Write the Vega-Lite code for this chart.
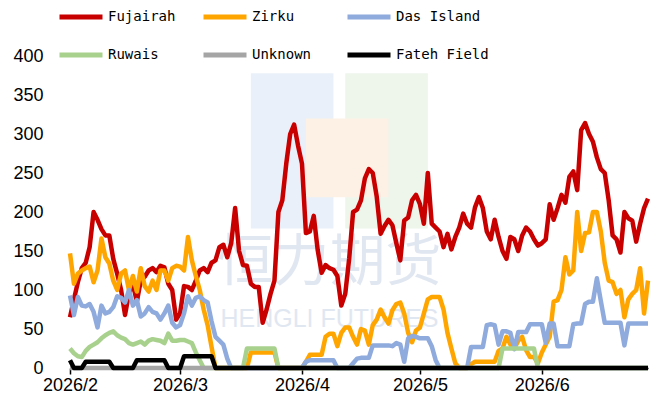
{
"$schema": "https://vega.github.io/schema/vega-lite/v6.json",
"width": 578, "height": 312,
"autosize": {"type": "none"},
"padding": {"left": 70, "top": 56, "right": 8, "bottom": 33},
"background": "white",
"config": {"view": {"stroke": null}, "font": "Liberation Sans",
  "axisX": {"labelOverlap": false, "grid": false, "domainColor": "black", "domainWidth": 1.5, "tickColor": "black", "tickSize": 6, "tickWidth": 1.5, "labelFont": "Liberation Sans", "labelFontSize": 18, "labelColor": "black", "labelPadding": 2, "labelFlush": false, "title": null},
  "axisY": {"labelOverlap": false, "grid": false, "domain": false, "ticks": false, "labelFont": "Liberation Sans", "labelFontSize": 18, "labelColor": "black", "labelPadding": 27, "title": null}},
"layer": [
{"data": {"values": [{"a": "2026-03-19", "b": "2026-04-09", "lo": 179, "hi": 378, "k": "blue"},
                     {"a": "2026-04-12", "b": "2026-05-03", "lo": 179, "hi": 378, "k": "green"},
                     {"a": "2026-04-02", "b": "2026-04-23", "lo": 219, "hi": 320, "k": "orange"}]},
 "mark": {"type": "rect"},
 "encoding": {"x": {"field": "a", "type": "temporal",
        "scale": {"type": "utc", "domain": [{"year": 2026, "month": 2, "date": 1, "utc": true}, {"year": 2026, "month": 6, "date": 28, "utc": true}]},
        "axis": {"values": [{"year": 2026, "month": 2, "date": 1, "utc": true}, {"year": 2026, "month": 3, "date": 1, "utc": true}, {"year": 2026, "month": 4, "date": 1, "utc": true}, {"year": 2026, "month": 5, "date": 1, "utc": true}, {"year": 2026, "month": 6, "date": 1, "utc": true}], "format": "%Y/%-m", "labelOverlap": false, "title": null}},
              "x2": {"field": "b"},
              "y": {"field": "lo", "type": "quantitative",
        "scale": {"domain": [0, 400], "nice": false},
        "axis": {"values": [0, 50, 100, 150, 200, 250, 300, 350, 400], "labelOverlap": false, "title": null}},
              "y2": {"field": "hi"},
              "fill": {"field": "k", "type": "nominal", "scale": {"domain": ["blue", "green", "orange"], "range": ["#e9f0f9", "#eef6ec", "#fdf1e5"]}, "legend": null}}},
{"data": {"values": [{"t": "恒力期货"}]},
 "mark": {"type": "text", "font": "Noto Sans CJK SC", "fontSize": 56, "color": "#e1e7f1", "align": "center", "baseline": "middle"},
 "encoding": {"text": {"field": "t"},
   "x": {"datum": {"year": 2026, "month": 4, "date": 8, "utc": true}, "type": "temporal", "axis": {"values": [{"year": 2026, "month": 2, "date": 1, "utc": true}, {"year": 2026, "month": 3, "date": 1, "utc": true}, {"year": 2026, "month": 4, "date": 1, "utc": true}, {"year": 2026, "month": 5, "date": 1, "utc": true}, {"year": 2026, "month": 6, "date": 1, "utc": true}], "format": "%Y/%-m", "labelOverlap": false, "title": null}},
   "y": {"datum": 135, "type": "quantitative", "axis": {"values": [0, 50, 100, 150, 200, 250, 300, 350, 400], "labelOverlap": false, "title": null}}}},
{"data": {"values": [{"t": "HENGLI FUTURES"}]},
 "mark": {"type": "text", "font": "Liberation Sans", "fontSize": 25, "color": "#e1e7f1", "align": "center", "baseline": "middle"},
 "encoding": {"text": {"field": "t"},
   "x": {"datum": {"year": 2026, "month": 4, "date": 8, "utc": true}, "type": "temporal", "axis": {"values": [{"year": 2026, "month": 2, "date": 1, "utc": true}, {"year": 2026, "month": 3, "date": 1, "utc": true}, {"year": 2026, "month": 4, "date": 1, "utc": true}, {"year": 2026, "month": 5, "date": 1, "utc": true}, {"year": 2026, "month": 6, "date": 1, "utc": true}], "format": "%Y/%-m", "labelOverlap": false, "title": null}},
   "y": {"datum": 63, "type": "quantitative", "axis": {"values": [0, 50, 100, 150, 200, 250, 300, 350, 400], "labelOverlap": false, "title": null}}}},
{"data": {"values": [
{"d":"2026-02-01","Fujairah":65,"Zirku":147,"Das Island":93,"Ruwais":25,"Unknown":0,"Fateh Field":10},
{"d":"2026-02-02","Fujairah":88,"Zirku":108,"Das Island":68,"Ruwais":19,"Unknown":0,"Fateh Field":0},
{"d":"2026-02-03","Fujairah":110,"Zirku":121,"Das Island":91,"Ruwais":15,"Unknown":0,"Fateh Field":0},
{"d":"2026-02-04","Fujairah":128,"Zirku":125,"Das Island":80,"Ruwais":14,"Unknown":0,"Fateh Field":0},
{"d":"2026-02-05","Fujairah":135,"Zirku":128,"Das Island":79,"Ruwais":22,"Unknown":0,"Fateh Field":8},
{"d":"2026-02-06","Fujairah":155,"Zirku":130,"Das Island":82,"Ruwais":27,"Unknown":0,"Fateh Field":8},
{"d":"2026-02-07","Fujairah":200,"Zirku":110,"Das Island":72,"Ruwais":30,"Unknown":0,"Fateh Field":8},
{"d":"2026-02-08","Fujairah":190,"Zirku":125,"Das Island":52,"Ruwais":33,"Unknown":0,"Fateh Field":8},
{"d":"2026-02-09","Fujairah":178,"Zirku":166,"Das Island":80,"Ruwais":38,"Unknown":0,"Fateh Field":8},
{"d":"2026-02-10","Fujairah":170,"Zirku":142,"Das Island":70,"Ruwais":42,"Unknown":0,"Fateh Field":8},
{"d":"2026-02-11","Fujairah":170,"Zirku":134,"Das Island":72,"Ruwais":45,"Unknown":0,"Fateh Field":8},
{"d":"2026-02-12","Fujairah":140,"Zirku":112,"Das Island":78,"Ruwais":47,"Unknown":0,"Fateh Field":0},
{"d":"2026-02-13","Fujairah":121,"Zirku":100,"Das Island":92,"Ruwais":42,"Unknown":0,"Fateh Field":0},
{"d":"2026-02-14","Fujairah":100,"Zirku":121,"Das Island":90,"Ruwais":39,"Unknown":0,"Fateh Field":0},
{"d":"2026-02-15","Fujairah":68,"Zirku":125,"Das Island":84,"Ruwais":37,"Unknown":0,"Fateh Field":0},
{"d":"2026-02-16","Fujairah":96,"Zirku":100,"Das Island":100,"Ruwais":32,"Unknown":0,"Fateh Field":0},
{"d":"2026-02-17","Fujairah":108,"Zirku":118,"Das Island":80,"Ruwais":30,"Unknown":0,"Fateh Field":0},
{"d":"2026-02-18","Fujairah":85,"Zirku":98,"Das Island":87,"Ruwais":32,"Unknown":0,"Fateh Field":10},
{"d":"2026-02-19","Fujairah":112,"Zirku":128,"Das Island":66,"Ruwais":34,"Unknown":0,"Fateh Field":10},
{"d":"2026-02-20","Fujairah":117,"Zirku":105,"Das Island":70,"Ruwais":30,"Unknown":0,"Fateh Field":10},
{"d":"2026-02-21","Fujairah":125,"Zirku":98,"Das Island":78,"Ruwais":35,"Unknown":0,"Fateh Field":10},
{"d":"2026-02-22","Fujairah":128,"Zirku":112,"Das Island":72,"Ruwais":37,"Unknown":0,"Fateh Field":10},
{"d":"2026-02-23","Fujairah":123,"Zirku":100,"Das Island":70,"Ruwais":36,"Unknown":0,"Fateh Field":10},
{"d":"2026-02-24","Fujairah":131,"Zirku":125,"Das Island":62,"Ruwais":35,"Unknown":0,"Fateh Field":10},
{"d":"2026-02-25","Fujairah":129,"Zirku":125,"Das Island":70,"Ruwais":32,"Unknown":0,"Fateh Field":10},
{"d":"2026-02-26","Fujairah":108,"Zirku":112,"Das Island":80,"Ruwais":44,"Unknown":0,"Fateh Field":0},
{"d":"2026-02-27","Fujairah":100,"Zirku":128,"Das Island":58,"Ruwais":35,"Unknown":0,"Fateh Field":0},
{"d":"2026-02-28","Fujairah":62,"Zirku":131,"Das Island":52,"Ruwais":35,"Unknown":0,"Fateh Field":0},
{"d":"2026-03-01","Fujairah":70,"Zirku":130,"Das Island":55,"Ruwais":36,"Unknown":0,"Fateh Field":0},
{"d":"2026-03-02","Fujairah":105,"Zirku":125,"Das Island":70,"Ruwais":36,"Unknown":0,"Fateh Field":15},
{"d":"2026-03-03","Fujairah":104,"Zirku":168,"Das Island":92,"Ruwais":34,"Unknown":0,"Fateh Field":15},
{"d":"2026-03-04","Fujairah":100,"Zirku":138,"Das Island":80,"Ruwais":32,"Unknown":0,"Fateh Field":15},
{"d":"2026-03-05","Fujairah":112,"Zirku":118,"Das Island":90,"Ruwais":20,"Unknown":0,"Fateh Field":15},
{"d":"2026-03-06","Fujairah":125,"Zirku":100,"Das Island":92,"Ruwais":10,"Unknown":0,"Fateh Field":15},
{"d":"2026-03-07","Fujairah":128,"Zirku":75,"Das Island":87,"Ruwais":0,"Unknown":0,"Fateh Field":15},
{"d":"2026-03-08","Fujairah":123,"Zirku":55,"Das Island":84,"Ruwais":0,"Unknown":0,"Fateh Field":15},
{"d":"2026-03-09","Fujairah":135,"Zirku":27,"Das Island":60,"Ruwais":0,"Unknown":0,"Fateh Field":15},
{"d":"2026-03-10","Fujairah":138,"Zirku":0,"Das Island":40,"Ruwais":0,"Unknown":0,"Fateh Field":0},
{"d":"2026-03-11","Fujairah":155,"Zirku":0,"Das Island":35,"Ruwais":0,"Unknown":0,"Fateh Field":0},
{"d":"2026-03-12","Fujairah":158,"Zirku":0,"Das Island":30,"Ruwais":0,"Unknown":0,"Fateh Field":0},
{"d":"2026-03-13","Fujairah":142,"Zirku":0,"Das Island":12,"Ruwais":0,"Unknown":0,"Fateh Field":0},
{"d":"2026-03-14","Fujairah":160,"Zirku":0,"Das Island":0,"Ruwais":0,"Unknown":0,"Fateh Field":0},
{"d":"2026-03-15","Fujairah":205,"Zirku":0,"Das Island":0,"Ruwais":0,"Unknown":0,"Fateh Field":0},
{"d":"2026-03-16","Fujairah":150,"Zirku":0,"Das Island":0,"Ruwais":0,"Unknown":0,"Fateh Field":0},
{"d":"2026-03-17","Fujairah":132,"Zirku":0,"Das Island":0,"Ruwais":0,"Unknown":0,"Fateh Field":0},
{"d":"2026-03-18","Fujairah":131,"Zirku":0,"Das Island":0,"Ruwais":25,"Unknown":0,"Fateh Field":0},
{"d":"2026-03-19","Fujairah":108,"Zirku":20,"Das Island":0,"Ruwais":25,"Unknown":0,"Fateh Field":0},
{"d":"2026-03-20","Fujairah":104,"Zirku":20,"Das Island":0,"Ruwais":25,"Unknown":0,"Fateh Field":0},
{"d":"2026-03-21","Fujairah":104,"Zirku":20,"Das Island":0,"Ruwais":25,"Unknown":0,"Fateh Field":0},
{"d":"2026-03-22","Fujairah":58,"Zirku":20,"Das Island":0,"Ruwais":25,"Unknown":0,"Fateh Field":0},
{"d":"2026-03-23","Fujairah":75,"Zirku":20,"Das Island":0,"Ruwais":25,"Unknown":0,"Fateh Field":0},
{"d":"2026-03-24","Fujairah":95,"Zirku":20,"Das Island":0,"Ruwais":25,"Unknown":0,"Fateh Field":0},
{"d":"2026-03-25","Fujairah":112,"Zirku":20,"Das Island":0,"Ruwais":25,"Unknown":0,"Fateh Field":0},
{"d":"2026-03-26","Fujairah":200,"Zirku":0,"Das Island":0,"Ruwais":0,"Unknown":0,"Fateh Field":0},
{"d":"2026-03-27","Fujairah":215,"Zirku":0,"Das Island":0,"Ruwais":0,"Unknown":0,"Fateh Field":0},
{"d":"2026-03-28","Fujairah":262,"Zirku":0,"Das Island":0,"Ruwais":0,"Unknown":0,"Fateh Field":0},
{"d":"2026-03-29","Fujairah":300,"Zirku":0,"Das Island":0,"Ruwais":0,"Unknown":0,"Fateh Field":0},
{"d":"2026-03-30","Fujairah":312,"Zirku":0,"Das Island":0,"Ruwais":0,"Unknown":0,"Fateh Field":0},
{"d":"2026-03-31","Fujairah":285,"Zirku":0,"Das Island":0,"Ruwais":0,"Unknown":0,"Fateh Field":0},
{"d":"2026-04-01","Fujairah":262,"Zirku":0,"Das Island":0,"Ruwais":0,"Unknown":0,"Fateh Field":0},
{"d":"2026-04-02","Fujairah":173,"Zirku":8,"Das Island":8,"Ruwais":0,"Unknown":0,"Fateh Field":0},
{"d":"2026-04-03","Fujairah":175,"Zirku":17,"Das Island":10,"Ruwais":0,"Unknown":0,"Fateh Field":0},
{"d":"2026-04-04","Fujairah":195,"Zirku":17,"Das Island":10,"Ruwais":0,"Unknown":0,"Fateh Field":0},
{"d":"2026-04-05","Fujairah":151,"Zirku":17,"Das Island":10,"Ruwais":0,"Unknown":0,"Fateh Field":0},
{"d":"2026-04-06","Fujairah":122,"Zirku":17,"Das Island":10,"Ruwais":0,"Unknown":0,"Fateh Field":0},
{"d":"2026-04-07","Fujairah":132,"Zirku":40,"Das Island":10,"Ruwais":0,"Unknown":0,"Fateh Field":0},
{"d":"2026-04-08","Fujairah":128,"Zirku":44,"Das Island":10,"Ruwais":0,"Unknown":0,"Fateh Field":0},
{"d":"2026-04-09","Fujairah":126,"Zirku":44,"Das Island":10,"Ruwais":0,"Unknown":0,"Fateh Field":0},
{"d":"2026-04-10","Fujairah":118,"Zirku":28,"Das Island":0,"Ruwais":0,"Unknown":0,"Fateh Field":0},
{"d":"2026-04-11","Fujairah":80,"Zirku":45,"Das Island":0,"Ruwais":0,"Unknown":0,"Fateh Field":0},
{"d":"2026-04-12","Fujairah":95,"Zirku":52,"Das Island":0,"Ruwais":0,"Unknown":0,"Fateh Field":0},
{"d":"2026-04-13","Fujairah":140,"Zirku":52,"Das Island":0,"Ruwais":0,"Unknown":0,"Fateh Field":0},
{"d":"2026-04-14","Fujairah":200,"Zirku":40,"Das Island":6,"Ruwais":0,"Unknown":0,"Fateh Field":0},
{"d":"2026-04-15","Fujairah":203,"Zirku":30,"Das Island":12,"Ruwais":0,"Unknown":0,"Fateh Field":0},
{"d":"2026-04-16","Fujairah":215,"Zirku":50,"Das Island":13,"Ruwais":0,"Unknown":0,"Fateh Field":0},
{"d":"2026-04-17","Fujairah":243,"Zirku":48,"Das Island":13,"Ruwais":0,"Unknown":0,"Fateh Field":0},
{"d":"2026-04-18","Fujairah":255,"Zirku":30,"Das Island":13,"Ruwais":0,"Unknown":0,"Fateh Field":0},
{"d":"2026-04-19","Fujairah":250,"Zirku":55,"Das Island":29,"Ruwais":0,"Unknown":0,"Fateh Field":0},
{"d":"2026-04-20","Fujairah":220,"Zirku":62,"Das Island":29,"Ruwais":0,"Unknown":0,"Fateh Field":0},
{"d":"2026-04-21","Fujairah":172,"Zirku":75,"Das Island":29,"Ruwais":0,"Unknown":0,"Fateh Field":0},
{"d":"2026-04-22","Fujairah":182,"Zirku":65,"Das Island":29,"Ruwais":0,"Unknown":0,"Fateh Field":0},
{"d":"2026-04-23","Fujairah":190,"Zirku":57,"Das Island":29,"Ruwais":0,"Unknown":0,"Fateh Field":0},
{"d":"2026-04-24","Fujairah":183,"Zirku":74,"Das Island":28,"Ruwais":0,"Unknown":0,"Fateh Field":0},
{"d":"2026-04-25","Fujairah":160,"Zirku":82,"Das Island":32,"Ruwais":0,"Unknown":0,"Fateh Field":0},
{"d":"2026-04-26","Fujairah":138,"Zirku":84,"Das Island":30,"Ruwais":0,"Unknown":0,"Fateh Field":0},
{"d":"2026-04-27","Fujairah":189,"Zirku":70,"Das Island":8,"Ruwais":0,"Unknown":0,"Fateh Field":0},
{"d":"2026-04-28","Fujairah":193,"Zirku":45,"Das Island":38,"Ruwais":0,"Unknown":0,"Fateh Field":0},
{"d":"2026-04-29","Fujairah":215,"Zirku":33,"Das Island":41,"Ruwais":0,"Unknown":0,"Fateh Field":0},
{"d":"2026-04-30","Fujairah":222,"Zirku":48,"Das Island":40,"Ruwais":0,"Unknown":0,"Fateh Field":0},
{"d":"2026-05-01","Fujairah":210,"Zirku":52,"Das Island":38,"Ruwais":0,"Unknown":0,"Fateh Field":0},
{"d":"2026-05-02","Fujairah":185,"Zirku":70,"Das Island":38,"Ruwais":0,"Unknown":0,"Fateh Field":0},
{"d":"2026-05-03","Fujairah":250,"Zirku":88,"Das Island":38,"Ruwais":0,"Unknown":0,"Fateh Field":0},
{"d":"2026-05-04","Fujairah":185,"Zirku":91,"Das Island":28,"Ruwais":0,"Unknown":0,"Fateh Field":0},
{"d":"2026-05-05","Fujairah":180,"Zirku":91,"Das Island":10,"Ruwais":0,"Unknown":0,"Fateh Field":0},
{"d":"2026-05-06","Fujairah":175,"Zirku":91,"Das Island":0,"Ruwais":0,"Unknown":0,"Fateh Field":0},
{"d":"2026-05-07","Fujairah":155,"Zirku":75,"Das Island":0,"Ruwais":0,"Unknown":0,"Fateh Field":0},
{"d":"2026-05-08","Fujairah":172,"Zirku":45,"Das Island":0,"Ruwais":0,"Unknown":0,"Fateh Field":0},
{"d":"2026-05-09","Fujairah":152,"Zirku":25,"Das Island":0,"Ruwais":0,"Unknown":0,"Fateh Field":0},
{"d":"2026-05-10","Fujairah":168,"Zirku":6,"Das Island":0,"Ruwais":0,"Unknown":0,"Fateh Field":0},
{"d":"2026-05-11","Fujairah":180,"Zirku":0,"Das Island":0,"Ruwais":0,"Unknown":0,"Fateh Field":0},
{"d":"2026-05-12","Fujairah":198,"Zirku":0,"Das Island":0,"Ruwais":0,"Unknown":0,"Fateh Field":0},
{"d":"2026-05-13","Fujairah":185,"Zirku":0,"Das Island":0,"Ruwais":0,"Unknown":0,"Fateh Field":0},
{"d":"2026-05-14","Fujairah":180,"Zirku":5,"Das Island":27,"Ruwais":0,"Unknown":0,"Fateh Field":0},
{"d":"2026-05-15","Fujairah":206,"Zirku":8,"Das Island":27,"Ruwais":0,"Unknown":0,"Fateh Field":0},
{"d":"2026-05-16","Fujairah":219,"Zirku":8,"Das Island":27,"Ruwais":0,"Unknown":0,"Fateh Field":0},
{"d":"2026-05-17","Fujairah":205,"Zirku":8,"Das Island":27,"Ruwais":0,"Unknown":0,"Fateh Field":0},
{"d":"2026-05-18","Fujairah":175,"Zirku":8,"Das Island":55,"Ruwais":0,"Unknown":0,"Fateh Field":0},
{"d":"2026-05-19","Fujairah":165,"Zirku":8,"Das Island":56,"Ruwais":0,"Unknown":0,"Fateh Field":0},
{"d":"2026-05-20","Fujairah":190,"Zirku":8,"Das Island":55,"Ruwais":0,"Unknown":0,"Fateh Field":0},
{"d":"2026-05-21","Fujairah":168,"Zirku":22,"Das Island":30,"Ruwais":0,"Unknown":0,"Fateh Field":0},
{"d":"2026-05-22","Fujairah":150,"Zirku":25,"Das Island":47,"Ruwais":25,"Unknown":0,"Fateh Field":0},
{"d":"2026-05-23","Fujairah":140,"Zirku":40,"Das Island":47,"Ruwais":25,"Unknown":0,"Fateh Field":0},
{"d":"2026-05-24","Fujairah":168,"Zirku":30,"Das Island":45,"Ruwais":25,"Unknown":0,"Fateh Field":0},
{"d":"2026-05-25","Fujairah":165,"Zirku":25,"Das Island":24,"Ruwais":25,"Unknown":0,"Fateh Field":0},
{"d":"2026-05-26","Fujairah":150,"Zirku":35,"Das Island":46,"Ruwais":25,"Unknown":0,"Fateh Field":0},
{"d":"2026-05-27","Fujairah":170,"Zirku":40,"Das Island":46,"Ruwais":25,"Unknown":0,"Fateh Field":0},
{"d":"2026-05-28","Fujairah":180,"Zirku":23,"Das Island":46,"Ruwais":25,"Unknown":0,"Fateh Field":0},
{"d":"2026-05-29","Fujairah":175,"Zirku":14,"Das Island":56,"Ruwais":25,"Unknown":0,"Fateh Field":0},
{"d":"2026-05-30","Fujairah":165,"Zirku":14,"Das Island":56,"Ruwais":25,"Unknown":0,"Fateh Field":0},
{"d":"2026-05-31","Fujairah":157,"Zirku":6,"Das Island":56,"Ruwais":0,"Unknown":0,"Fateh Field":0},
{"d":"2026-06-01","Fujairah":160,"Zirku":20,"Das Island":56,"Ruwais":0,"Unknown":0,"Fateh Field":0},
{"d":"2026-06-02","Fujairah":165,"Zirku":30,"Das Island":32,"Ruwais":0,"Unknown":0,"Fateh Field":0},
{"d":"2026-06-03","Fujairah":210,"Zirku":40,"Das Island":57,"Ruwais":0,"Unknown":0,"Fateh Field":0},
{"d":"2026-06-04","Fujairah":190,"Zirku":85,"Das Island":57,"Ruwais":0,"Unknown":0,"Fateh Field":0},
{"d":"2026-06-05","Fujairah":205,"Zirku":87,"Das Island":28,"Ruwais":0,"Unknown":0,"Fateh Field":0},
{"d":"2026-06-06","Fujairah":222,"Zirku":100,"Das Island":28,"Ruwais":0,"Unknown":0,"Fateh Field":0},
{"d":"2026-06-07","Fujairah":212,"Zirku":142,"Das Island":28,"Ruwais":0,"Unknown":0,"Fateh Field":0},
{"d":"2026-06-08","Fujairah":245,"Zirku":120,"Das Island":28,"Ruwais":0,"Unknown":0,"Fateh Field":0},
{"d":"2026-06-09","Fujairah":252,"Zirku":125,"Das Island":56,"Ruwais":0,"Unknown":0,"Fateh Field":0},
{"d":"2026-06-10","Fujairah":228,"Zirku":200,"Das Island":57,"Ruwais":0,"Unknown":0,"Fateh Field":0},
{"d":"2026-06-11","Fujairah":305,"Zirku":150,"Das Island":57,"Ruwais":0,"Unknown":0,"Fateh Field":0},
{"d":"2026-06-12","Fujairah":314,"Zirku":173,"Das Island":82,"Ruwais":0,"Unknown":0,"Fateh Field":0},
{"d":"2026-06-13","Fujairah":300,"Zirku":174,"Das Island":85,"Ruwais":0,"Unknown":0,"Fateh Field":0},
{"d":"2026-06-14","Fujairah":290,"Zirku":200,"Das Island":85,"Ruwais":0,"Unknown":0,"Fateh Field":0},
{"d":"2026-06-15","Fujairah":270,"Zirku":200,"Das Island":115,"Ruwais":0,"Unknown":0,"Fateh Field":0},
{"d":"2026-06-16","Fujairah":255,"Zirku":175,"Das Island":86,"Ruwais":0,"Unknown":0,"Fateh Field":0},
{"d":"2026-06-17","Fujairah":250,"Zirku":135,"Das Island":58,"Ruwais":0,"Unknown":0,"Fateh Field":0},
{"d":"2026-06-18","Fujairah":215,"Zirku":112,"Das Island":58,"Ruwais":0,"Unknown":0,"Fateh Field":0},
{"d":"2026-06-19","Fujairah":170,"Zirku":110,"Das Island":58,"Ruwais":0,"Unknown":0,"Fateh Field":0},
{"d":"2026-06-20","Fujairah":165,"Zirku":95,"Das Island":58,"Ruwais":0,"Unknown":0,"Fateh Field":0},
{"d":"2026-06-21","Fujairah":148,"Zirku":100,"Das Island":58,"Ruwais":0,"Unknown":0,"Fateh Field":0},
{"d":"2026-06-22","Fujairah":200,"Zirku":65,"Das Island":29,"Ruwais":0,"Unknown":0,"Fateh Field":0},
{"d":"2026-06-23","Fujairah":192,"Zirku":88,"Das Island":57,"Ruwais":0,"Unknown":0,"Fateh Field":0},
{"d":"2026-06-24","Fujairah":189,"Zirku":95,"Das Island":57,"Ruwais":0,"Unknown":0,"Fateh Field":0},
{"d":"2026-06-25","Fujairah":162,"Zirku":100,"Das Island":57,"Ruwais":0,"Unknown":0,"Fateh Field":0},
{"d":"2026-06-26","Fujairah":185,"Zirku":128,"Das Island":57,"Ruwais":0,"Unknown":0,"Fateh Field":0},
{"d":"2026-06-27","Fujairah":205,"Zirku":70,"Das Island":57,"Ruwais":0,"Unknown":0,"Fateh Field":0},
{"d":"2026-06-28","Fujairah":217,"Zirku":112,"Das Island":57,"Ruwais":0,"Unknown":0,"Fateh Field":0}
]},
 "transform": [{"fold": ["Fujairah", "Zirku", "Das Island", "Ruwais", "Unknown", "Fateh Field"], "as": ["s", "v"]}],
 "mark": {"type": "line", "strokeWidth": 4.5, "strokeJoin": "round", "strokeCap": "butt"},
 "encoding": {
  "x": {"field": "d", "type": "temporal",
        "scale": {"type": "utc", "domain": [{"year": 2026, "month": 2, "date": 1, "utc": true}, {"year": 2026, "month": 6, "date": 28, "utc": true}]},
        "axis": {"values": [{"year": 2026, "month": 2, "date": 1, "utc": true}, {"year": 2026, "month": 3, "date": 1, "utc": true}, {"year": 2026, "month": 4, "date": 1, "utc": true}, {"year": 2026, "month": 5, "date": 1, "utc": true}, {"year": 2026, "month": 6, "date": 1, "utc": true}], "format": "%Y/%-m", "labelOverlap": false, "title": null}},
  "y": {"field": "v", "type": "quantitative",
        "scale": {"domain": [0, 400], "nice": false},
        "axis": {"values": [0, 50, 100, 150, 200, 250, 300, 350, 400], "labelOverlap": false, "title": null}},
  "color": {"field": "s", "type": "nominal",
            "scale": {"domain": ["Fujairah", "Zirku", "Das Island", "Ruwais", "Unknown", "Fateh Field"], "range": ["#C80000", "#FFA500", "#8FAADC", "#A9D18E", "#A5A5A5", "#000000"]},
            "legend": {"orient": "none", "legendX": -13, "legendY": -63, "direction": "horizontal", "columns": 3, "title": null,
                       "symbolType": "stroke", "symbolSize": 1849, "symbolStrokeWidth": 5, "labelFont": "DejaVu Sans Mono", "labelFontSize": 14,
                       "labelColor": "black", "labelOffset": 3, "columnPadding": -8, "rowPadding": 4, "gridAlign": "all", "labelLimit": 200}}
 }}
]
}
